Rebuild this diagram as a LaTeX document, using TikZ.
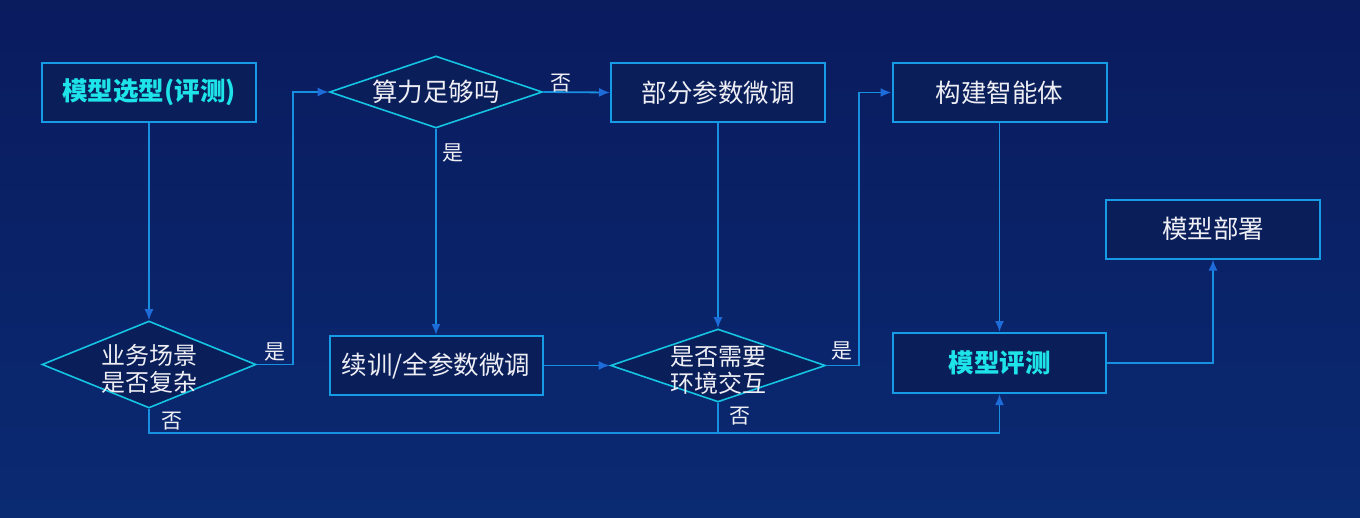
\documentclass[tikz,border=0pt]{standalone}
\usepackage{fontspec}
\setmainfont{Noto Sans CJK SC}
\usetikzlibrary{shapes.geometric,arrows.meta}
\definecolor{bgtop}{HTML}{0A1B5E}
\definecolor{bgbot}{HTML}{0A2A72}
\definecolor{boxfill}{HTML}{0A1F5A}
\definecolor{boxline}{HTML}{169CE6}
\definecolor{dialine}{HTML}{14C4E2}
\definecolor{wirec}{HTML}{1890E2}
\definecolor{tipc}{HTML}{1E6CDA}
\definecolor{txtc}{HTML}{EEEEF4}
\definecolor{hilite}{HTML}{1EE4EA}
\begin{document}
\begin{tikzpicture}[x=1pt,y=-1pt,
  box/.style={draw=boxline, line width=2pt, fill=boxfill, minimum width=214pt, minimum height=59pt, inner sep=0pt},
  dia/.style={diamond, draw=dialine, line width=1.6pt, fill=boxfill, inner sep=0pt},
  txt/.style={text=txtc, font=\fontsize{25.5}{29}\selectfont, align=center, inner sep=0pt},
  diatxt/.style={text=txtc, font=\fontsize{24}{27}\selectfont, align=center, inner sep=0pt},
  boldtxt/.style={text=hilite, font=\fontsize{25.5}{29}\selectfont\bfseries, inner sep=0pt},
  lbl/.style={text=txtc, font=\fontsize{21}{24}\selectfont, inner sep=0pt},
  wire/.style={draw=wirec, line width=1.8pt},
  arr/.style={wire, -{Latex[length=11pt,width=9pt,color=tipc]}}]
% background
\fill[bgtop] (0,0) rectangle (1360,517);
\shade[top color=bgtop, bottom color=bgbot] (0,0) rectangle (1360,517);
\useasboundingbox (0,0) rectangle (1360,517);

% process boxes
\node[box] (m1) at (149,92.5) {};
\node[boldtxt] at (m1) {模型选型(评测)};
\node[box] (b2) at (718,92.5) {};
\node[txt] at (b2) {部分参数微调};
\node[box] (b3) at (999.5,92.5) {};
\node[txt] at (b3) {构建智能体};
\node[box] (b4) at (1213,229) {};
\node[txt] at (b4) {模型部署};
\node[box, minimum width=213pt] (b5) at (436,365.5) {};
\node[txt] at (b5) {续训/全参数微调};
\node[box, minimum width=213pt, minimum height=60pt] (b6) at (999.5,363) {};
\node[boldtxt] at (b6) {模型评测};

% decisions
\node[dia, minimum width=213pt, minimum height=72pt] (d1) at (436,92) {};
\node[txt] at (d1) {算力足够吗};
\node[dia, minimum width=214pt, minimum height=87pt] (d2) at (149,364.5) {};
\node[diatxt] at ([yshift=-4pt]d2.center) {业务场景\\是否复杂};
\node[dia, minimum width=215pt, minimum height=73pt] (d3) at (718,365.5) {};
\node[diatxt] at ([yshift=-5pt]d3.center) {是否需要\\环境交互};

% connectors
\draw[arr] (m1.south) -- (d2.north);
\draw[arr] (d2.east) -- ++(36,0) |- (d1.west);
\draw[arr] (d1.east) -- (b2.west);
\draw[arr] (d1.south) -- (b5.north);
\draw[arr] (b5.east) -- (d3.west);
\draw[arr] (b2.south) -- (d3.north);
\draw[arr] (d3.east) -- ++(33,0) |- (b3.west);
\draw[arr] (b3.south) -- (b6.north);
\draw[arr] (d2.south) -- ++(0,24) coordinate (j) -| (b6.south);
\draw[wire] (d3.south) -- (d3.south |- j);
\draw[arr] (b6.east) -| (b4.south);

% branch labels
\node[lbl] (y1) at (275,352) {是};
\node[lbl] (n1) at (172,421) {否};
\node[lbl] (n2) at (561,83) {否};
\node[lbl] (y2) at (453,153) {是};
\node[lbl] (y3) at (842,351) {是};
\node[lbl] (n3) at (740,416) {否};
\end{tikzpicture}
\end{document}
